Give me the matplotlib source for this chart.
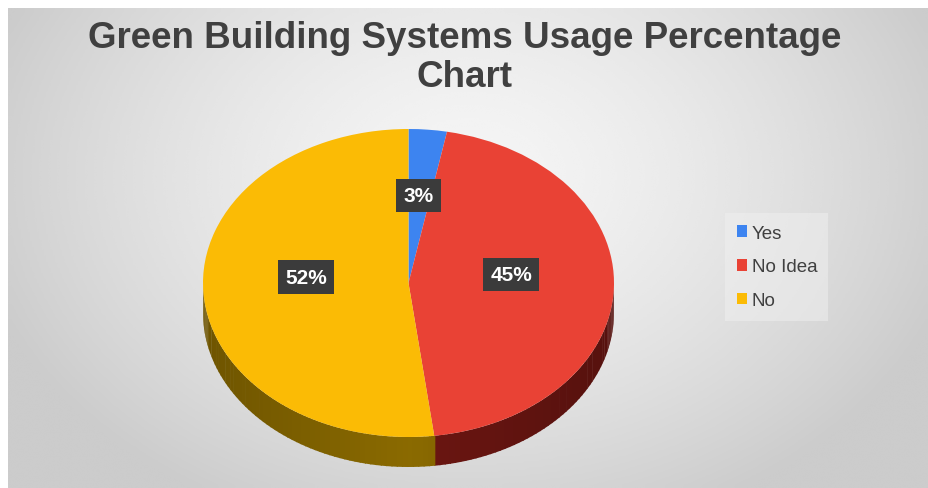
import numpy as np
import matplotlib.pyplot as plt
from matplotlib.patches import Polygon
import matplotlib.colors as mcolors

plt.rcParams['font.family'] = ['Liberation Sans', 'DejaVu Sans']

# data
categories = ["Yes", "No Idea", "No"]
values = [3, 45, 52]
colors = ["#3d84f0", "#e94235", "#fbbb05"]
side_colors = ["#1f4a8a", "#641410", "#806200"]
title = "Green Building Systems Usage Percentage\nChart"

W, H = 929, 489
fig = plt.figure(figsize=(W / 100, H / 100), dpi=100)
fig.patch.set_facecolor("white")

# gradient background panel
bg = fig.add_axes([0, 0, 1, 1])
bg.set_xlim(0, W)
bg.set_ylim(H, 0)
bg.axis("off")
xx, yy = np.meshgrid(np.linspace(-1, 1, 400), np.linspace(-1, 1, 220))
r = np.sqrt(xx ** 2 + (yy + 0.3) ** 2 * 0.5)
shade = np.clip(0.96 - 0.14 * r ** 1.5, 0.80, 0.96)
bg.imshow(shade, cmap="gray", vmin=0, vmax=1, extent=[8, W, H, 9],
          aspect="auto", interpolation="bicubic")

# pie axes: data units are ellipse radii
cx, cy, rx, ry = 408.5, 284, 205.5, 154
depth = 30 / ry
ax = fig.add_axes([0, 0, 1, 1])
ax.patch.set_alpha(0)

wedges, _, autotexts = ax.pie(values, colors=colors, startangle=90, counterclock=False,
                              radius=1, autopct="%1.0f%%", pctdistance=0.5,
                              wedgeprops=dict(lw=0, zorder=5),
                              textprops=dict(color="white", fontsize=15, fontweight="bold"))
ax.set_aspect("auto")
ax.set_xlim(-cx / rx, (W - cx) / rx)
ax.set_ylim((cy - H) / ry, cy / ry)
ax.axis("off")

for t in autotexts:
    t.set_zorder(10)
    x, y = t.get_position()
    t.set_position((x, y + 0.07))
    t.set_bbox(dict(boxstyle="square,pad=0.35", fc="#3b3b3b", ec="none"))

# side wall of the 3D pie (front half only)
for w, sc in zip(wedges, side_colors):
    a1, a2 = sorted([w.theta1, w.theta2])
    for off in (0, -360, 360):
        lo, hi = max(a1 + off, -180), min(a2 + off, 0)
        if hi <= lo:
            continue
        ts = np.linspace(lo, hi, int((hi - lo) / 1.5) + 2)
        base = np.array(mcolors.to_rgb(sc))
        for i in range(len(ts) - 1):
            tm = np.radians((ts[i] + ts[i + 1]) / 2)
            f = 1.08 - 0.22 * abs(np.cos(tm))
            c = np.clip(base * f, 0, 1)
            t0, t1 = np.radians(ts[i]), np.radians(ts[i + 1] + 0.3)
            pts = [(np.cos(t0), np.sin(t0)), (np.cos(t1), np.sin(t1)),
                   (np.cos(t1), np.sin(t1) - depth), (np.cos(t0), np.sin(t0) - depth)]
            ax.add_patch(Polygon(pts, closed=True, fc=c, ec="none", zorder=3))

fig.text(0.5, 1 - 58 / H, title, ha="center", va="center", fontsize=26.5,
         fontweight="bold", color="#404040", linespacing=1.15)

leg = ax.legend(wedges, categories, loc="center left",
                bbox_to_anchor=(716 / W, 1 - 268 / H), frameon=True,
                bbox_transform=fig.transFigure, fontsize=13.5, labelspacing=0.9,
                handlelength=0.55, handleheight=0.55, handletextpad=0.25,
                borderpad=0.6, fancybox=False)
leg.get_frame().set_facecolor("#f0f0f0")
leg.get_frame().set_edgecolor("none")
leg.get_frame().set_alpha(0.5)
for t in leg.get_texts():
    t.set_color("#404040")

fig.savefig("out.png", dpi=100)
